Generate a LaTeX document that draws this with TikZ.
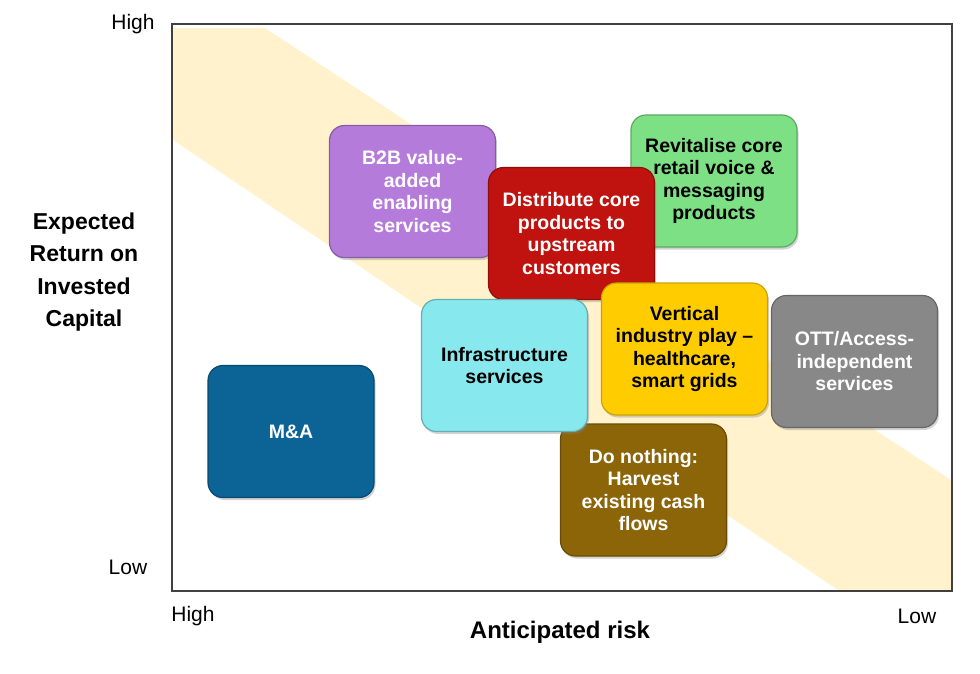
\documentclass[tikz,border=0pt]{standalone}
\usepackage{fontspec}
\setmainfont{Liberation Sans}
\usepackage{xcolor}
\usepackage{tikz}
\usetikzlibrary{positioning, shadows}
\definecolor{bandyellow}{RGB}{255, 242, 204}
\definecolor{framegray}{RGB}{64, 64, 64}
\definecolor{b2bpurple}{RGB}{181, 123, 219}
\definecolor{corered}{RGB}{192, 18, 14}
\definecolor{retailgreen}{RGB}{126, 224, 132}
\definecolor{infracyan}{RGB}{135, 232, 238}
\definecolor{verticalgold}{RGB}{255, 204, 0}
\definecolor{ottgray}{RGB}{136, 136, 136}
\definecolor{mnablue}{RGB}{11, 99, 150}
\definecolor{harvestbrown}{RGB}{139, 101, 8}

\begin{document}
\begin{tikzpicture}[
    x=1pt, y=-1pt,
    option/.style={rectangle, rounded corners=15pt, line width=1.2pt,
                   minimum width=166pt, minimum height=132pt, align=center,
                   inner sep=2pt,
                   font=\bfseries\fontsize{19.5}{22.5}\selectfont,
                   drop shadow={opacity=0.35, shadow xshift=1.5pt, shadow yshift=-2.5pt}},
    axislabel/.style={font=\fontsize{21}{24}\selectfont, inner sep=0pt},
    axistitle/.style={font=\bfseries\fontsize{23}{32.5}\selectfont, align=center, inner sep=0pt}
]
\useasboundingbox (0,0) rectangle (980,673);

% Band and frame
\fill[bandyellow] (173,28) -- (265,28) -- (951,480) -- (951,590) -- (838,590) -- (173,140) -- cycle;
\draw[framegray, line width=1.5pt] (172,24) rectangle (952,591);

% Axis labels
\node[axislabel] (yhigh) at (133,24) {High};
\node[axislabel] (ylow) at (128,567) {Low};
\node[axislabel] (xhigh) at (193,616) {High};
\node[axislabel] (xlow) at (917,616) {Low};
\node[axistitle] (ytitle) at (84,272) {Expected\\Return on\\Invested\\Capital};
\node[axistitle, font=\bfseries\fontsize{24}{28}\selectfont] (xtitle) at (560,632) {Anticipated risk};

% Options
\node[option, fill=retailgreen, draw=retailgreen!75!black] (revitalise) at (714,181)
    {Revitalise core\\retail voice \&\\messaging\\products};
\node[option, fill=b2bpurple, draw=b2bpurple!75!black, text=white] (b2b) at (412.5,191.5)
    {B2B value-\\added\\enabling\\services};
\node[option, fill=corered, draw=corered!75!black, text=white] (distribute) at (571.5,233.5)
    {Distribute core\\products to\\upstream\\customers};
\node[option, fill=harvestbrown, draw=harvestbrown!75!black, text=white] (nothing) at (643.5,490)
    {Do nothing:\\Harvest\\existing cash\\flows};
\node[option, fill=infracyan, draw=infracyan!75!black] (infra) at (504.5,365.5)
    {Infrastructure\\services};
\node[option, fill=verticalgold, draw=verticalgold!80!black] (vertical) at (684.5,349)
    {Vertical\\industry play --\\healthcare,\\smart grids};
\node[option, fill=ottgray, draw=ottgray!75!black, text=white] (ott) at (854.5,361.5)
    {OTT/Access-\\independent\\services};
\node[option, fill=mnablue, draw=mnablue!75!black, text=white] (mna) at (291,431.5)
    {M\&A};

\end{tikzpicture}
\end{document}
